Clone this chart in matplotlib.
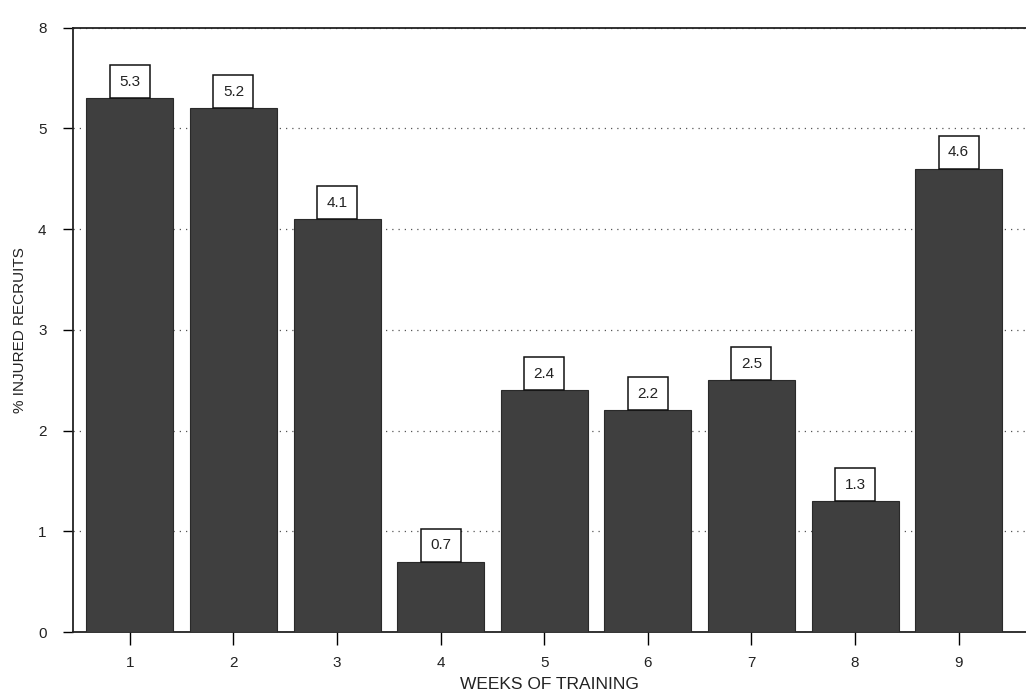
import matplotlib
matplotlib.use("Agg")
import matplotlib.pyplot as plt

weeks = [1, 2, 3, 4, 5, 6, 7, 8, 9]
injured_pct = [5.3, 5.2, 4.1, 0.7, 2.4, 2.2, 2.5, 1.3, 4.6]
value_labels = ["5.3", "5.2", "4.1", "0.7", "2.4", "2.2", "2.5", "1.3", "4.6"]
y_ticks = [0, 1, 2, 3, 4, 5, 6]
y_tick_labels = ["0", "1", "2", "3", "4", "5", "8"]

plt.rcParams['font.family'] = ['Liberation Sans', 'DejaVu Sans']

fig = plt.figure(figsize=(10.26, 6.93), dpi=100)
ax = fig.add_axes([0.071, 0.088, 0.929, 0.872])

ax.bar(weeks, injured_pct, width=0.84, color='#3f3f3f', edgecolor='#2a2a2a',
       linewidth=0.8, zorder=3)

fs = 11
pad = 0.62
for x, v, lab in zip(weeks, injured_pct, value_labels):
    ax.annotate(lab, xy=(x, v), xytext=(0, pad * fs), textcoords='offset points',
                ha='center', va='bottom', fontsize=fs, color='#222222', zorder=5,
                bbox=dict(boxstyle=f'square,pad={pad}', fc='white', ec='#111111', lw=1.1))

ax.set_xlim(0.45, 9.65)
ax.set_ylim(0, 6)
ax.set_yticks(y_ticks)
ax.set_yticklabels(y_tick_labels, fontsize=11, color='#222222')
ax.set_xticks(weeks)
ax.set_xticklabels([str(w) for w in weeks], fontsize=11, color='#222222')

ax.yaxis.grid(True, linestyle=(0, (1, 4)), color='#555555', linewidth=0.9, zorder=0)
ax.xaxis.grid(False)

for side in ['left', 'top', 'bottom']:
    ax.spines[side].set_linewidth(1.3)
    ax.spines[side].set_color('#222222')
ax.spines['right'].set_visible(False)

ax.tick_params(axis='y', direction='out', length=7, width=1.0, pad=12)
ax.tick_params(axis='x', direction='out', length=9, width=1.0, pad=8)

ax.set_ylabel('% INJURED RECRUITS', fontsize=11, color='#222222', labelpad=8)
ax.set_xlabel('WEEKS OF TRAINING', fontsize=12.5, color='#222222', labelpad=5)

fig.savefig('out.png', dpi=100)
